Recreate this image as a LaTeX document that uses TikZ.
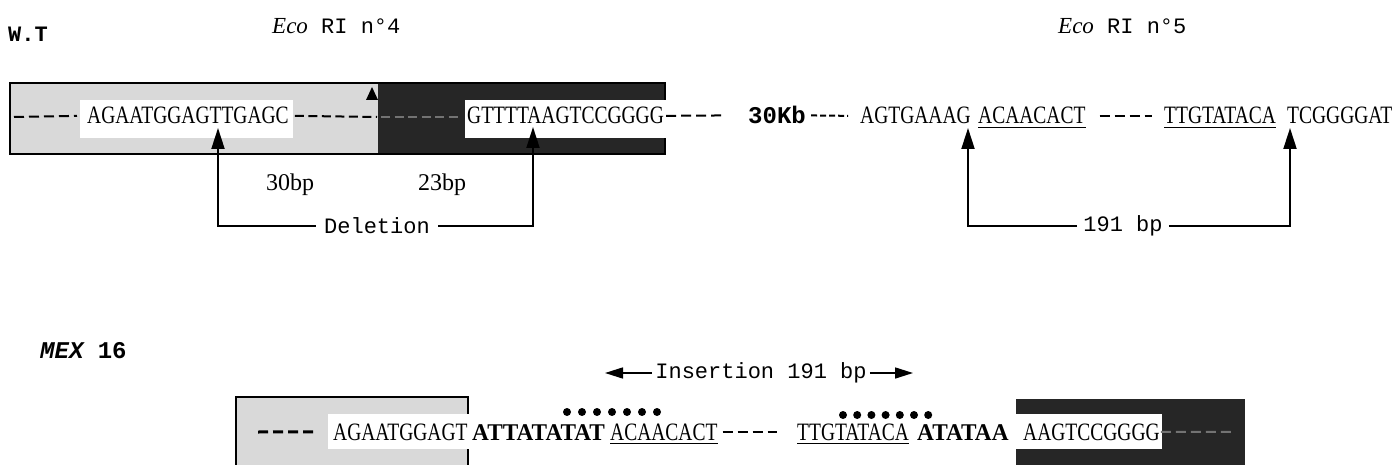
\documentclass[tikz,border=0pt]{standalone}
\usepackage{fontspec}
\setmainfont{Liberation Serif}
\newfontfamily\seqfont[FakeStretch=0.78]{Liberation Serif}
\newfontfamily\seqbf[FakeStretch=0.97]{Liberation Serif}
\newfontfamily\labfont{Liberation Mono}
\usetikzlibrary{arrows.meta}
\definecolor{lightdot}{gray}{0.85}
\definecolor{darkdot}{gray}{0.15}

\begin{document}
\begin{tikzpicture}[x=1pt, y=-1pt, every node/.style={inner sep=0pt},
  seq/.style={font=\seqfont\fontsize{25}{29}\selectfont, anchor=base west},
  seqb/.style={font=\seqbf\bfseries\fontsize{24}{28}\selectfont, anchor=base west},
  lab/.style={font=\labfont\fontsize{22}{26}\selectfont},
  hdr/.style={font=\labfont\bfseries\fontsize{22}{26}\selectfont, anchor=base west},
  bp/.style={font=\fontsize{24}{28}\selectfont, anchor=base west},
  dsh/.style={line width=2pt, dash pattern=on 10pt off 5pt},
  uline/.style={line width=1.8pt},
  brk/.style={line width=2pt, -{Triangle[length=21pt,width=13pt]}},
  harr/.style={line width=1.6pt, -{Triangle[length=18pt,width=11pt]}}]
  \useasboundingbox (0,0) rectangle (1394,465);
  \clip (0,0) rectangle (1394,465);

  \node[hdr] (wt) at (8,42) {W.T};
  \node[lab, anchor=base west] (eco4) at (272,34) {{\rmfamily\itshape\fontsize{23}{26}\selectfont Eco} RI n°4};
  \node[lab, anchor=base west] (eco5) at (1058,34) {{\rmfamily\itshape\fontsize{23}{26}\selectfont Eco} RI n°5};

  \fill[lightdot] (10,83) rectangle (378,154);
  \fill[darkdot] (378,83) rectangle (665,154);
  \draw[line width=2pt] (10,83) rectangle (665,154);
  \fill[white] (80,100) rectangle (293,138);
  \fill[white] (465,100) rectangle (668,138);
  \fill (366,100) -- (372,87) -- (378,100) -- cycle;

  \node[seq] (wtA) at (87,124) {AGAATGGAGTTGAGC};
  \node[seq] (wtB) at (467,124) {GTTTTAAGTCCGGGG};
  \node[hdr, font=\labfont\bfseries\fontsize{24}{28}\selectfont] (kb) at (748,124) {30Kb};
  \node[seq] (wtC) at (860,124) {AGTGAAAG};
  \node[seq] (wtD) at (978,124) {ACAACACT};
  \node[seq] (wtE) at (1164,124) {TTGTATACA};
  \node[seq] (wtF) at (1287,124) {TCGGGGAT};

  \draw[dsh] (14,117) -- ([xshift=-10pt]wtA.west);
  \draw[dsh, dash pattern=on 9pt off 4.5pt] ([xshift=6pt]wtA.east) -- (377,117);
  \draw[dsh, black!55, dash pattern=on 9pt off 4.5pt] (381,117) -- (462,117);
  \draw[dsh] ([xshift=2pt]wtB.east) -- ([xshift=-25pt]kb.west);
  \draw[dsh, dash pattern=on 6pt off 3pt] ([xshift=5pt]kb.east) -- ([xshift=-12pt]wtC.west);
  \draw[dsh] ([xshift=14pt]wtD.east) -- ([xshift=-12pt]wtE.west);
  \draw[uline] ([yshift=-3pt]wtD.south west) -- ([yshift=-3pt]wtD.south east);
  \draw[uline] ([yshift=-3pt]wtE.south west) -- ([yshift=-3pt]wtE.south east);

  \coordinate (cutA) at (218,128);
  \coordinate (cutB) at (533,127);
  \coordinate (cutC) at (968,128);
  \coordinate (cutD) at (1290,128);
  \node[bp] (bp30) at (266,190) {30bp};
  \node[bp] (bp23) at (418,190) {23bp};
  \node[lab, inner xsep=8pt] (del) at (377,226) {Deletion};
  \node[lab, inner xsep=6pt] (ins5) at (1123,226) {191 bp};
  \draw[brk] (del.west) -| (cutA);
  \draw[brk] (del.east) -| (cutB);
  \draw[brk] (ins5.west) -| (cutC);
  \draw[brk] (ins5.east) -| (cutD);

  \node[hdr, font=\labfont\bfseries\fontsize{24}{28}\selectfont] (mex) at (40,358) {{\itshape MEX} 16};
  \node[lab, inner xsep=3pt] (ins) at (761,373) {Insertion 191 bp};
  \coordinate (insL) at (605,373);
  \coordinate (insR) at (913,373);
  \draw[harr] (ins.west) -- (insL);
  \draw[harr] (ins.east) -- (insR);

  \fill[lightdot] (236,397) rectangle (468,480);
  \draw[line width=2pt] (236,480) -- (236,397) -- (468,397) -- (468,480);
  \fill[darkdot] (1016,399) rectangle (1245,480);
  \fill[white] (328,414) rectangle (471,449);
  \fill[white] (1013,414) rectangle (1162,449);

  \node[seq] (mxA) at (333,440) {AGAATGGAGT};
  \node[seqb] (mxB) at (472,440) {ATTATATAT};
  \node[seq] (mxC) at (610,440) {ACAACACT};
  \node[seq] (mxD) at (797,440) {TTGTATACA};
  \node[seqb] (mxE) at (917,440) {ATATAA};
  \node[seq] (mxF) at (1023,440) {AAGTCCGGGG};
  \draw[dsh, line width=3pt] (258,432) -- ([xshift=-18pt]mxA.west);
  \draw[dsh] ([xshift=5pt]mxC.east) -- ([xshift=-20pt]mxD.west);
  \draw[dsh, black!55] ([xshift=1pt]mxF.east) -- (1232,432);
  \draw[uline] ([yshift=-3pt]mxC.south west) -- ([yshift=-3pt]mxC.south east);
  \draw[uline] ([yshift=-3pt]mxD.south west) -- ([yshift=-3pt]mxD.south east);
  \foreach \i in {0,...,6} {
    \fill (567+15*\i,412) circle (4pt);
    \fill (843+14.2*\i,415) circle (4pt);
  }
\end{tikzpicture}
\end{document}
